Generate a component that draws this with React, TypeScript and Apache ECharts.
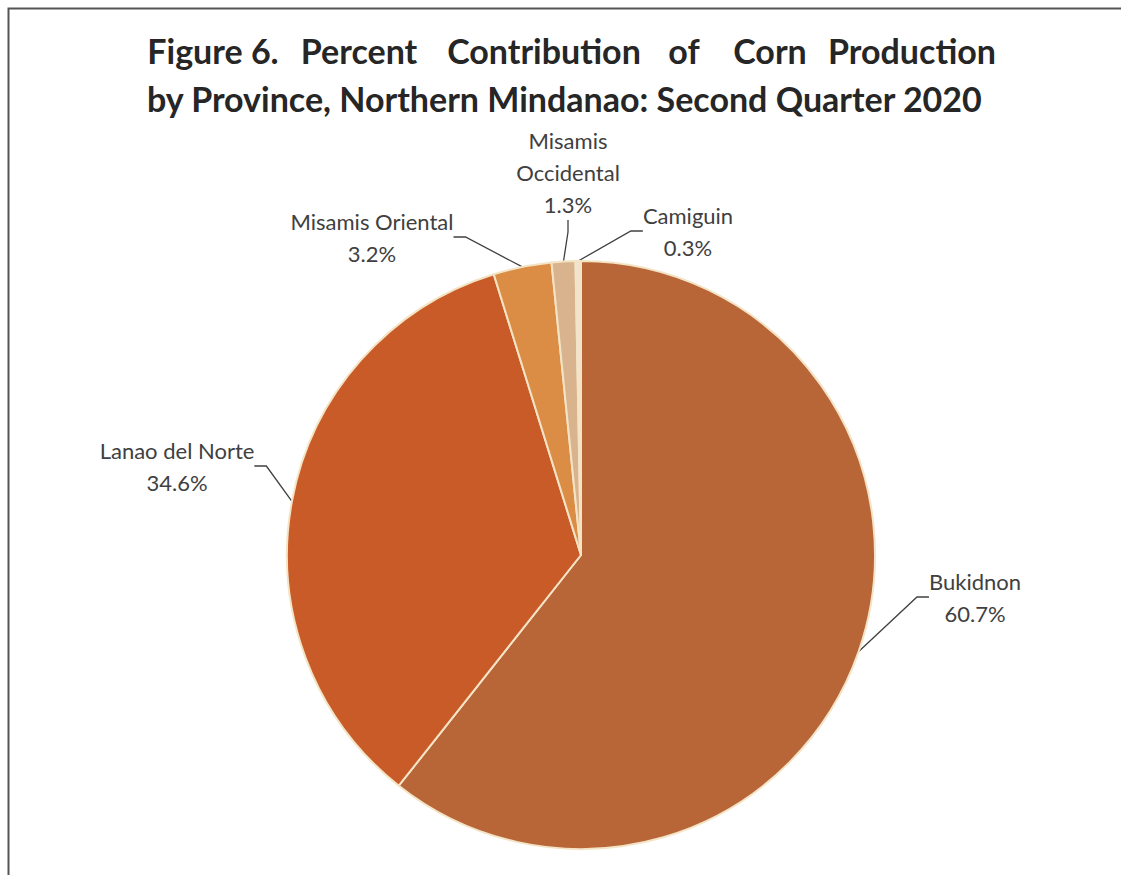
import React, { useEffect, useRef } from "react";
import * as echarts from "echarts";

const titleLine1Words = ["Figure 6.", "Percent", "Contribution", "of", "Corn", "Production"];
const titleLine2 = "by Province, Northern Mindanao: Second Quarter 2020";

const provinces = ["Bukidnon", "Lanao del Norte", "Misamis Oriental", "Misamis Occidental", "Camiguin"];
const labelNames = ["Bukidnon", "Lanao del Norte", "Misamis Oriental", "Misamis\nOccidental", "Camiguin"];
const shares = [60.7, 34.6, 3.2, 1.3, 0.3];
const colors = ["#B86538", "#C95B28", "#DC8D45", "#D9B38E", "#F1E2D2"];

// layout only: label centres and title word centres
const labelPos: [number, number][] = [
  [975, 597],
  [177, 466],
  [372, 237],
  [568, 172],
  [688, 231],
];
const titleWordCenterX = [213, 359, 544, 684, 770, 912];

export default function App() {
  const ref = useRef<HTMLDivElement>(null);
  useEffect(() => {
    document.body.style.margin = "0";
    const chart = echarts.init(ref.current!, undefined, { renderer: "svg" });
    const titleFont = { fontFamily: "Lato", fontWeight: "bold" as const, fontSize: 34, fill: "#262626" };
    const graphics: any[] = [
      {
        type: "rect",
        shape: { x: 8.5, y: 8.5, width: 1300, height: 1000 },
        style: { fill: "none", stroke: "#555555", lineWidth: 2 },
        silent: true,
      },
      ...titleLine1Words.map((w, i) => ({
        type: "text",
        x: titleWordCenterX[i],
        y: 50,
        style: { ...titleFont, text: w, textAlign: "center", textVerticalAlign: "middle" },
      })),
      {
        type: "text",
        x: 147,
        y: 98,
        style: { ...titleFont, text: titleLine2, textAlign: "left", textVerticalAlign: "middle" },
      },
    ];
    chart.setOption({
      animation: false,
      backgroundColor: "#ffffff",
      graphic: graphics,
      series: [
        {
          type: "pie",
          center: [581, 555],
          radius: 294,
          startAngle: 90,
          clockwise: true,
          data: provinces.map((p, i) => ({
            name: p,
            value: shares[i],
            itemStyle: { color: colors[i] },
          })),
          itemStyle: { borderColor: "#F4E4C6", borderWidth: 2 },
          label: {
            show: true,
            position: "outside",
            formatter: (p: any) => `${labelNames[p.dataIndex]}\n${shares[p.dataIndex].toFixed(1)}%`,
            fontFamily: "Lato",
            fontSize: 22,
            lineHeight: 32,
            color: "#404040",
            align: "center",
          },
          labelLine: {
            show: true,
            length: 12,
            length2: 12,
            lineStyle: { color: "#404040", width: 1.3 },
          },
          labelLayout: (params: any) => {
            const [x, y] = labelPos[params.dataIndex];
            return { x, y, align: "center", verticalAlign: "middle" };
          },
          emphasis: { disabled: true },
        },
      ],
    });
    return () => chart.dispose();
  }, []);
  return <div ref={ref} style={{ width: 1121, height: 875 }} />;
}
